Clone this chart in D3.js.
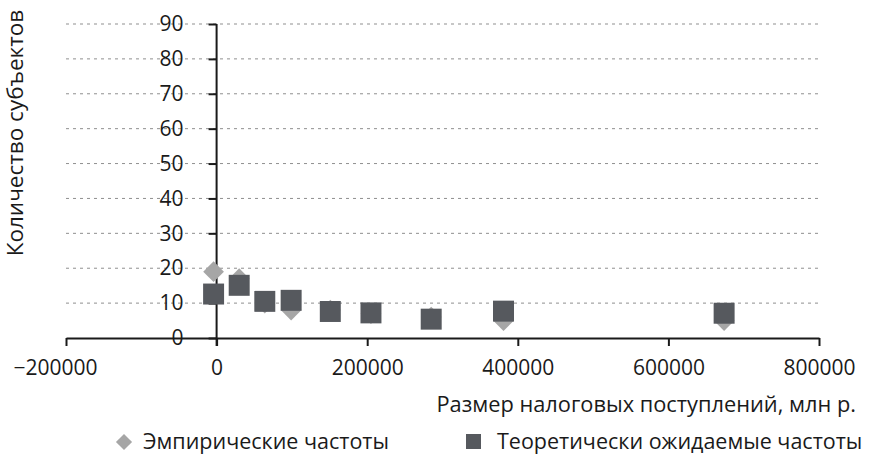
<!DOCTYPE html>
<html><head><meta charset="utf-8">
<script src="https://cdn.jsdelivr.net/npm/d3@7"></script>
<style>
html,body{margin:0;padding:0;background:#fff;}
svg{display:block;font-family:"Open Sans",sans-serif;}
</style></head>
<body>
<svg id="chart" width="870" height="457"></svg>
<script>
// ---- data ----
const incomeX = [-4000, 30000, 64000, 99000, 151000, 205000, 285000, 381000, 674000];
const empirical = [19, 17, 10, 8, 8, 7, 6, 5, 5];
const theoretical = [12.6, 15.1, 10.5, 10.8, 7.6, 7.2, 5.4, 7.7, 7.1];
const xTicks = [-200000, 0, 200000, 400000, 600000, 800000];
const yTicks = [0, 10, 20, 30, 40, 50, 60, 70, 80, 90];
const seriesNames = ["Эмпирические частоты", "Теоретически ожидаемые частоты"];
const xTitle = "Размер налоговых поступлений, млн р.";
const yTitle = "Количество субъектов";

// ---- layout ----
const svg = d3.select("#chart");
const x = d3.scaleLinear().domain([-200000, 800000]).range([66, 819]);
const y = d3.scaleLinear().domain([0, 90]).range([338, 24]);
const cDiamond = "#a6a6a6", cSquare = "#56595e", axisC = "#1a1a1a";

// gridlines
svg.append("g").selectAll("line").data(yTicks.filter(d => d > 0)).join("line")
  .attr("x1", x(-200000)).attr("x2", x(800000))
  .attr("y1", d => y(d)).attr("y2", d => y(d))
  .attr("stroke", "#8f8f8f").attr("stroke-width", 1).attr("stroke-dasharray", "3,4");

const fmt = d => (d < 0 ? "\u2212" : "") + Math.abs(d);

// x axis
const gx = svg.append("g").attr("transform", `translate(0,${y(0)})`)
  .call(d3.axisBottom(x).tickValues(xTicks).tickSize(8).tickSizeOuter(0).tickPadding(14).tickFormat(fmt));
// y axis
const gy = svg.append("g").attr("transform", `translate(${x(0)},0)`)
  .call(d3.axisLeft(y).tickValues(yTicks).tickSize(8).tickSizeOuter(0).tickPadding(25));

[gx, gy].forEach(g => {
  g.select(".domain").attr("stroke", axisC).attr("stroke-width", 2);
  g.selectAll(".tick line").attr("stroke", axisC).attr("stroke-width", 2);
  g.selectAll(".tick text").attr("fill", "#1a1a1a").style("font-size", "21px").style("font-family", '"Open Sans",sans-serif');
});
gx.selectAll(".tick text").filter(d => d < 0).attr("dx", -11);
gy.select(".domain").attr("d", `M0,${y(90)}V${y(0) + 8}`);

// markers
const pts = incomeX.map((v, i) => ({x: v, e: empirical[i], t: theoretical[i]}));
const diamond = d3.symbol(d3.symbolSquare, 215);
const square = d3.symbol(d3.symbolSquare, 440);
svg.append("g").selectAll("path").data(pts).join("path")
  .attr("d", diamond)
  .attr("transform", d => `translate(${x(d.x)},${y(d.e)}) rotate(45)`)
  .attr("fill", cDiamond);
svg.append("g").selectAll("path").data(pts).join("path")
  .attr("d", square)
  .attr("transform", d => `translate(${x(d.x)},${y(d.t)})`)
  .attr("fill", cSquare);

// axis titles
svg.append("text").attr("x", 856).attr("y", 412).attr("text-anchor", "end")
  .style("font-size", "21.8px").attr("fill", "#1a1a1a").text(xTitle);
svg.append("text").attr("transform", `translate(15,133) rotate(-90)`)
  .attr("text-anchor", "middle").attr("dy", "0.35em")
  .style("font-size", "22.5px").attr("fill", "#1a1a1a").text(yTitle);

// legend
const leg = svg.append("g");
leg.append("path").attr("d", d3.symbol(d3.symbolSquare, 130)).attr("transform", "translate(124,442) rotate(45)").attr("fill", cDiamond);
leg.append("text").attr("x", 143).attr("y", 449).style("font-size", "21.5px").attr("fill", "#1a1a1a").text(seriesNames[0]);
leg.append("rect").attr("x", 466).attr("y", 434).attr("width", 15).attr("height", 15).attr("fill", cSquare);
leg.append("text").attr("x", 497).attr("y", 449).style("font-size", "21.5px").attr("fill", "#1a1a1a").text(seriesNames[1]);
</script>
</body></html>
